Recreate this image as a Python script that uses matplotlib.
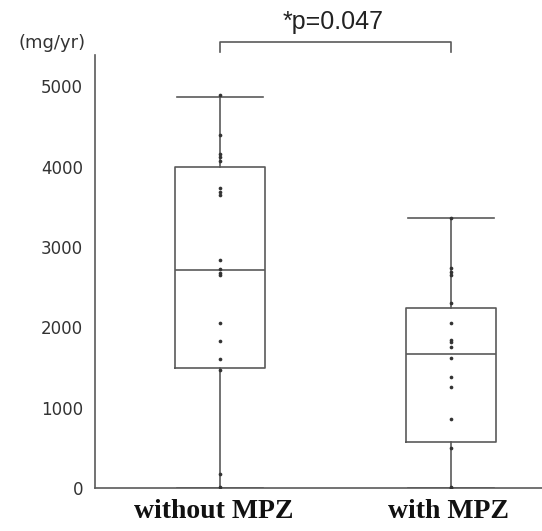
import matplotlib
matplotlib.use("Agg")
import matplotlib.pyplot as plt

# groups and raw points (mg/yr)
groups = ["without MPZ", "with MPZ"]
without_pts = [4888, 4391, 4154, 4117, 4067, 3731, 3682, 3644, 2836, 2724,
               2674, 2649, 2052, 1828, 1604, 1468, 174, 12]
with_pts = [3358, 2736, 2687, 2649, 2301, 2052, 1841, 1816, 1754, 1617,
            1381, 1256, 858, 498, 12, 0]

# box statistics as drawn in the figure
whislo = [0, 0]
q1 = [1493, 572]
med = [2711, 1667]
q3 = [3990, 2239]
whishi = [4870, 3358]

yticks = [0, 1000, 2000, 3000, 4000, 5000]
p_text = "*p=0.047"

line_col = "#5a5a5a"

fig = plt.figure(figsize=(5.42, 5.31), dpi=100)
ax = fig.add_axes([0.175, 0.081, 0.825, 0.815])

stats = []
for i, g in enumerate(groups):
    stats.append(dict(label=g, whislo=whislo[i], q1=q1[i], med=med[i],
                      q3=q3[i], whishi=whishi[i], fliers=[]))

ax.bxp(stats, positions=[1, 2], widths=0.39, showfliers=False,
       boxprops=dict(color=line_col, linewidth=1.2),
       medianprops=dict(color=line_col, linewidth=1.2),
       whiskerprops=dict(color=line_col, linewidth=1.2),
       capprops=dict(color=line_col, linewidth=1.2),
       capwidths=0.37)

for i, pts in enumerate([without_pts, with_pts]):
    ax.scatter([i + 1] * len(pts), pts, s=7, color="#333333", zorder=3,
               linewidths=0)

ax.set_xlim(0.459, 2.394)
ax.set_ylim(0, 5386)
ax.set_yticks(yticks)
ax.set_yticklabels([str(t) for t in yticks], fontsize=12, color="#333333",
                   family="DejaVu Sans")
ax.tick_params(axis="y", length=0, pad=8.5)
ax.tick_params(axis="x", length=0, pad=8)
ax.set_xticks([0.975, 1.99])
ax.set_xticklabels(groups, fontsize=20, fontweight="bold",
                   family="Liberation Serif", color="#111111")

for s in ["top", "right"]:
    ax.spines[s].set_visible(False)
for s in ["left", "bottom"]:
    ax.spines[s].set_color(line_col)
    ax.spines[s].set_linewidth(1.2)

# significance bracket
ax.plot([1, 1, 2, 2], [5423, 5547, 5547, 5423], color=line_col,
        linewidth=1.2, clip_on=False)
ax.text(1.49, 5655, p_text, ha="center", va="bottom", fontsize=18,
        family="Liberation Sans", color="#222222")

fig.text(0.096, 0.919, "(mg/yr)", fontsize=13, color="#333333",
         family="DejaVu Sans", va="center", ha="center")

fig.savefig("out.png", dpi=100)
